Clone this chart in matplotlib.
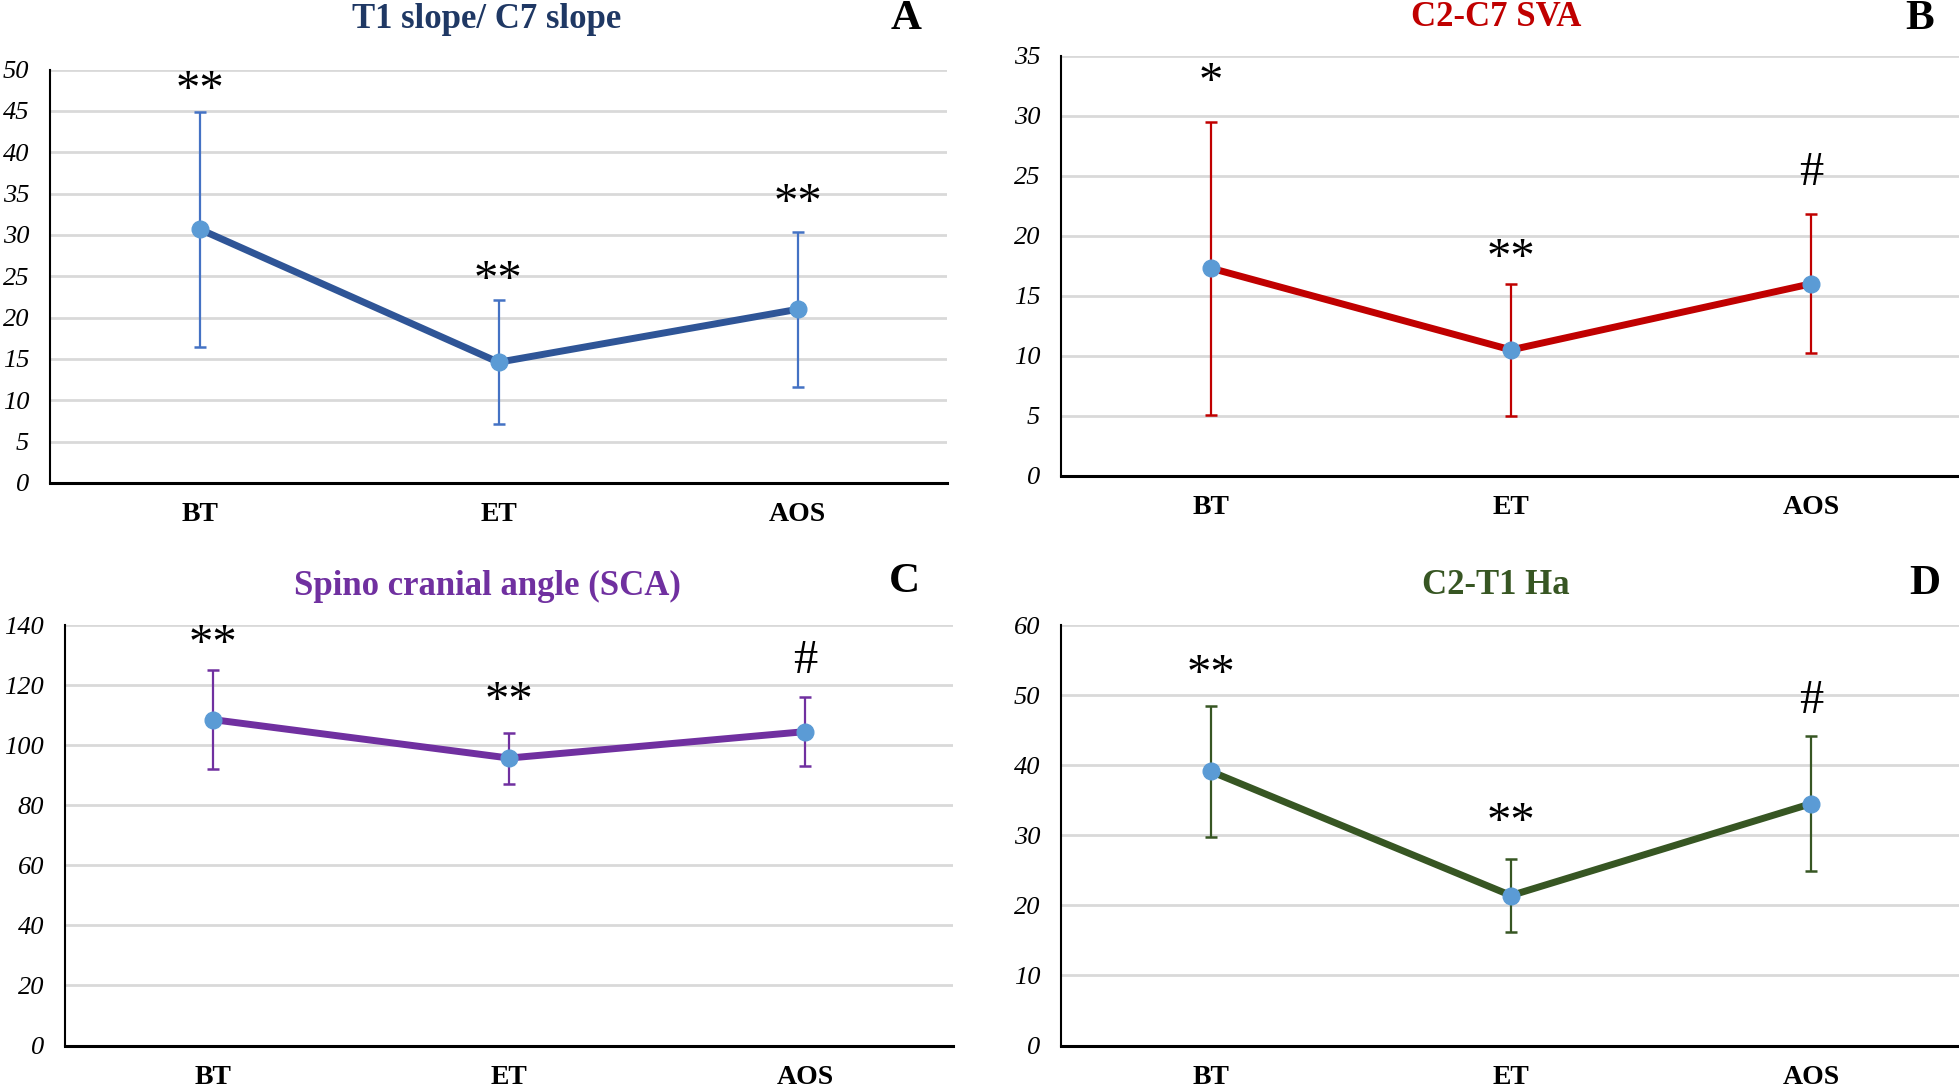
import matplotlib.pyplot as plt

plt.rcParams['font.family'] = ['Liberation Serif', 'DejaVu Serif']

categories = ["BT", "ET", "AOS"]

# A: T1 slope / C7 slope
mean_a = [30.7, 14.6, 21.0]
sd_a = [14.2, 7.5, 9.4]
sig_a = ["**", "**", "**"]
sig_y_a = [47.4, 24.4, 33.7]

# B: C2-C7 SVA
mean_b = [17.3, 10.5, 16.0]
sd_b = [12.2, 5.5, 5.8]
sig_b = ["*", "**", "#"]
sig_y_b = [32.7, 18.1, 25.2]

# C: spino cranial angle
mean_c = [108.5, 95.7, 104.5]
sd_c = [16.5, 8.5, 11.5]
sig_c = ["**", "**", "#"]
sig_y_c = [133.5, 114.2, 128.0]

# D: C2-T1 Ha
mean_d = [39.1, 21.4, 34.5]
sd_d = [9.3, 5.2, 9.6]
sig_d = ["**", "**", "#"]
sig_y_d = [52.8, 31.8, 49.1]

W, H = 1959, 1090
fig = plt.figure(figsize=(W / 100, H / 100), dpi=100)


def px(l, t, r, b):
    return [l / W, 1 - b / H, (r - l) / W, (b - t) / H]


panels = [
    dict(rect=px(50, 69.5, 947, 483), mean=mean_a, sd=sd_a, sig=sig_a, sig_y=sig_y_a,
         ymax=50, step=5, line='#2F5597', err='#4472C4',
         title="T1 slope/ C7 slope", tcol='#1F3864', tpos=(487, 19),
         letter="A", lpos=(906, 19)),
    dict(rect=px(1061, 55.6, 1961, 476), mean=mean_b, sd=sd_b, sig=sig_b, sig_y=sig_y_b,
         ymax=35, step=5, line='#C00000', err='#C00000',
         title="C2-C7 SVA", tcol='#C00000', tpos=(1496, 17),
         letter="B", lpos=(1920, 19)),
    dict(rect=px(65, 625, 953, 1045.5), mean=mean_c, sd=sd_c, sig=sig_c, sig_y=sig_y_c,
         ymax=140, step=20, line='#7030A0', err='#7030A0',
         title="Spino cranial angle (SCA)", tcol='#7030A0', tpos=(487, 586),
         letter="C", lpos=(904, 582)),
    dict(rect=px(1061, 625, 1961, 1045.5), mean=mean_d, sd=sd_d, sig=sig_d, sig_y=sig_y_d,
         ymax=60, step=10, line='#375623', err='#375623',
         title="C2-T1 Ha", tcol='#375623', tpos=(1496, 586),
         letter="D", lpos=(1925, 584)),
]

x = list(range(len(categories)))

for p in panels:
    ax = fig.add_axes(p['rect'])
    ax.errorbar(x, p['mean'], yerr=p['sd'], fmt='none', ecolor=p['err'],
                elinewidth=1.6, capsize=4.5, capthick=1.8, zorder=3)
    ax.plot(x, p['mean'], color=p['line'], lw=5, zorder=4,
            marker='o', markersize=12, markerfacecolor='#5B9BD5',
            markeredgecolor='#5B9BD5')
    for xi, s, sy in zip(x, p['sig'], p['sig_y']):
        ax.text(xi, sy, s, ha='center', va='center', fontsize=35, color='black')

    ax.set_xlim(-0.5, 2.5)
    ax.set_ylim(0, p['ymax'])
    ax.set_yticks(range(0, p['ymax'] + 1, p['step']))
    ax.set_xticks(x)
    ax.set_xticklabels(categories, fontweight='bold', fontsize=20)
    for lab in ax.get_yticklabels():
        lab.set_fontstyle('italic')
        lab.set_fontsize(19)
    ax.tick_params(axis='both', length=0)
    ax.tick_params(axis='y', pad=15)
    ax.tick_params(axis='x', pad=14)
    ax.grid(True, axis='y', color='#D9D9D9', lw=2)
    ax.set_axisbelow(True)
    for side in ['top', 'right']:
        ax.spines[side].set_visible(False)
    ax.spines['left'].set_linewidth(1.5)
    ax.spines['bottom'].set_linewidth(2.2)

    fig.text(p['tpos'][0] / W, 1 - p['tpos'][1] / H, p['title'], color=p['tcol'],
             fontsize=25, fontweight='bold', ha='center', va='center')
    fig.text(p['lpos'][0] / W, 1 - p['lpos'][1] / H, p['letter'], color='black',
             fontsize=31, fontweight='bold', ha='center', va='center')

fig.savefig('out.png', dpi=100)
